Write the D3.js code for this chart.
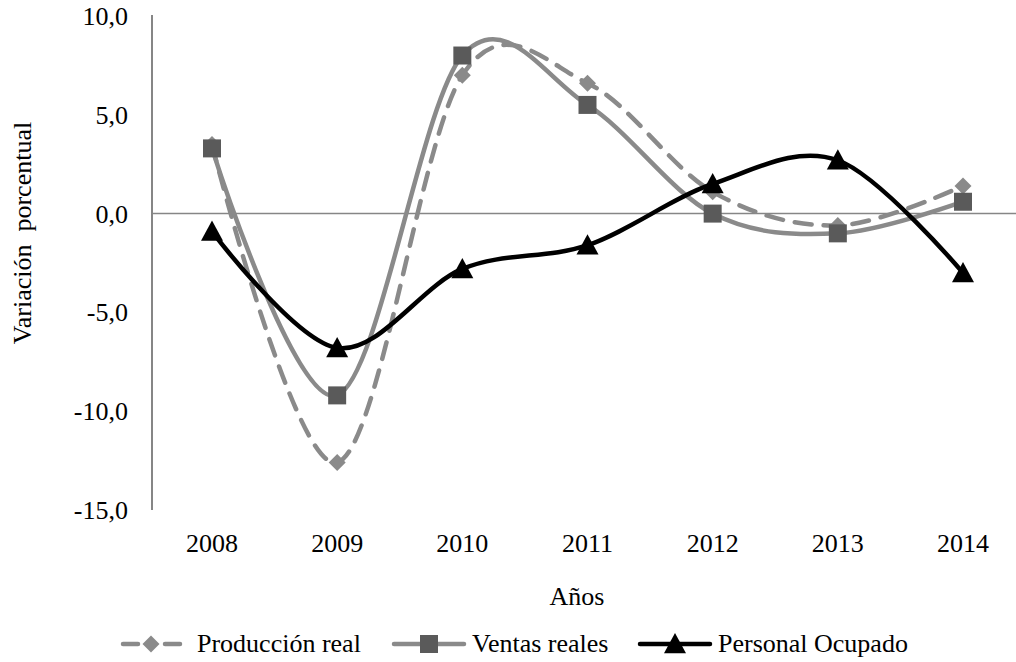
<!DOCTYPE html>
<html>
<head>
<meta charset="utf-8">
<script src="https://cdn.jsdelivr.net/npm/d3@7"></script>
</head>
<body style="margin:0;background:#fff">
<svg id="chart" width="1016" height="662" style="display:block"></svg>
<script>
const years = ["2008", "2009", "2010", "2011", "2012", "2013", "2014"];
const produccionReal = [3.5, -12.6, 7.0, 6.6, 1.1, -0.6, 1.4];
const ventasReales = [3.3, -9.2, 8.0, 5.5, 0.0, -1.0, 0.6];
const personalOcupado = [-0.9, -6.8, -2.8, -1.6, 1.5, 2.7, -3.0];
const yTicks = [10, 5, 0, -5, -10, -15];
const seriesNames = ["Producción real", "Ventas reales", "Personal Ocupado"];

const FONT = "'Liberation Serif', monospace";
const svg = d3.select("#chart");
const x = d3.scalePoint().domain(years).range([212, 963]);
const y = d3.scaleLinear().domain([-15, 10]).range([510, 16]);
const fmt = v => d3.format(".1f")(v).replace(".", ",").replace("−", "-");

// y axis line
svg.append("line").attr("x1", 152).attr("x2", 152).attr("y1", y(10) - 1).attr("y2", y(-15))
  .attr("stroke", "#868686").attr("stroke-width", 2);
// zero line
svg.append("line").attr("x1", 152).attr("x2", 1016).attr("y1", y(0)).attr("y2", y(0))
  .attr("stroke", "#868686").attr("stroke-width", 1.5);

// y tick labels
svg.append("g").selectAll("text").data(yTicks).join("text")
  .attr("x", 128).attr("y", d => y(d) + 9)
  .attr("text-anchor", "end").attr("font-size", 26).attr("fill", "#000")
  .style("font-family", FONT)
  .text(d => fmt(d));

// x tick labels
svg.append("g").selectAll("text").data(years).join("text")
  .attr("x", d => x(d)).attr("y", 552)
  .attr("text-anchor", "middle").attr("font-size", 26).attr("fill", "#000")
  .style("font-family", FONT)
  .text(d => d);

// axis titles
svg.append("text").attr("x", 577).attr("y", 605).attr("text-anchor", "middle")
  .attr("font-size", 26).style("font-family", FONT).text("Años");
svg.append("text").attr("transform", "translate(31,233) rotate(-90)")
  .attr("text-anchor", "middle").attr("font-size", 26).style("font-family", FONT)
  .style("white-space", "pre").text("Variación  porcentual");

const line = d3.line().x((d, i) => x(years[i])).y(d => y(d)).curve(d3.curveCardinal.tension(0));

const diamond = (s) => `M0,${-s}L${s},0L0,${s}L${-s},0Z`;
const square = (s) => `M${-s},${-s}H${s}V${s}H${-s}Z`;
const triangle = (s) => `M0,${-s}L${s},${s * 0.85}L${-s},${s * 0.85}Z`;

const styles = [
  { data: produccionReal, stroke: "#8a8a8a", dash: "17,12", width: 4.5, marker: diamond(8.5), fill: "#8a8a8a" },
  { data: ventasReales, stroke: "#8a8a8a", dash: null, width: 4.5, marker: square(9), fill: "#5a5a5a" },
  { data: personalOcupado, stroke: "#000", dash: null, width: 4.5, marker: triangle(11), fill: "#000" }
];

styles.forEach(s => {
  svg.append("path").datum(s.data).attr("d", line)
    .attr("fill", "none").attr("stroke", s.stroke).attr("stroke-width", s.width)
    .attr("stroke-linecap", "round").attr("stroke-dasharray", s.dash);
  svg.append("g").selectAll("path").data(s.data).join("path")
    .attr("transform", (d, i) => `translate(${x(years[i])},${y(d)})`)
    .attr("d", s.marker).attr("fill", s.fill);
});

// legend
const legendX = [120, 392, 638];
const lg = svg.append("g");
styles.forEach((s, i) => {
  const g = lg.append("g").attr("transform", `translate(${legendX[i]},644)`);
  if (s.dash) {
    g.append("line").attr("x1", 3).attr("x2", 18).attr("stroke", s.stroke).attr("stroke-width", s.width).attr("stroke-linecap", "round");
    g.append("line").attr("x1", 45).attr("x2", 60).attr("stroke", s.stroke).attr("stroke-width", s.width).attr("stroke-linecap", "round");
  } else {
    g.append("line").attr("x1", 2).attr("x2", 72).attr("stroke", s.stroke).attr("stroke-width", s.width).attr("stroke-linecap", "round");
  }
  const cx = s.dash ? 31 : 37;
  g.append("path").attr("transform", `translate(${cx},0)`).attr("d", s.marker).attr("fill", s.fill);
  g.append("text").attr("x", s.dash ? 77 : 80).attr("y", 8).attr("font-size", 26)
    .style("font-family", FONT).text(seriesNames[i]);
});
</script>
</body>
</html>
